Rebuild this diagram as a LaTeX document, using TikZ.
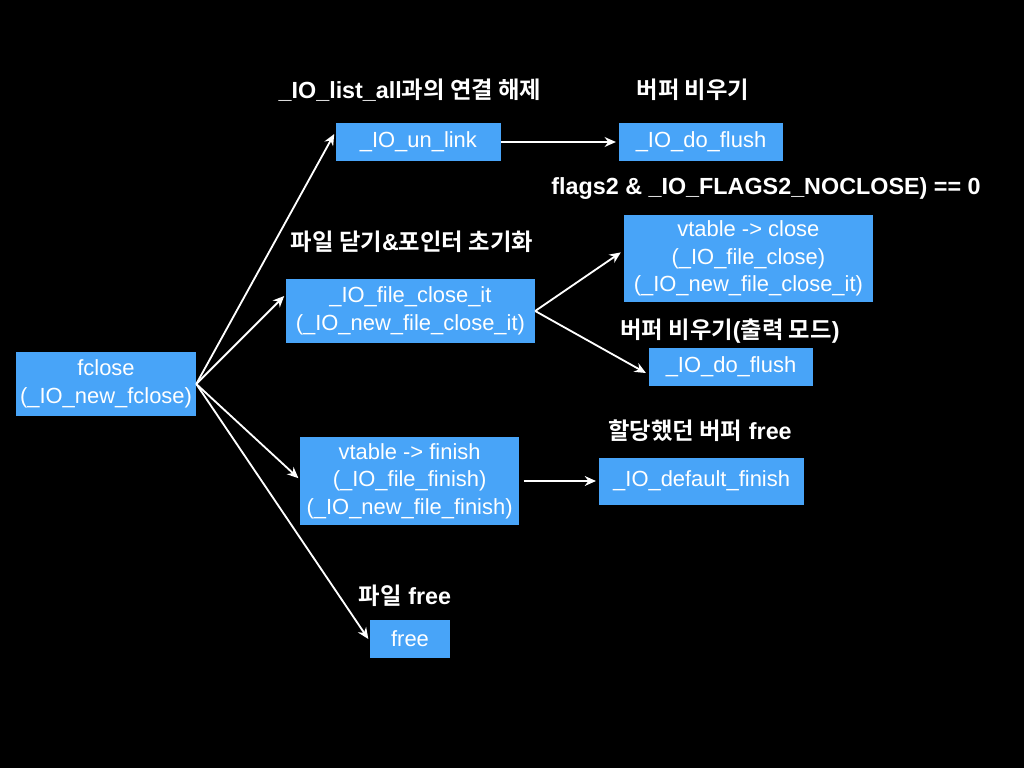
\documentclass[tikz,border=0pt]{standalone}
\usepackage{fontspec}
\setmainfont{Liberation Sans}
\newfontfamily\krfont{Noto Sans CJK KR}[BoldFont={Noto Sans CJK KR Bold}]
\newcommand{\kr}[1]{{\krfont\bfseries #1}}
\usetikzlibrary{arrows.meta}
\definecolor{boxblue}{RGB}{72,164,248}

\begin{document}
\begin{tikzpicture}[>={Stealth[length=8pt,width=7pt]},
  every node/.style={font=\fontsize{15.6}{19.5}\selectfont, text=white},
  fn/.style={fill=boxblue, inner sep=0pt, align=center},
  lbl/.style={font=\fontsize{16.6}{19.5}\selectfont\bfseries},
  arr/.style={->, draw=white, line width=1.3pt}]
\fill[black] (0,0) rectangle (25.6,-19.2);
\useasboundingbox (0,0) rectangle (25.6,-19.2);
\node[fn, minimum width=4.5cm, minimum height=1.6cm] (fclose) at (2.65,-9.6) {fclose\\(\_IO\_new\_fclose)};
\node[fn, minimum width=4.125cm, minimum height=0.95cm] (unlink) at (10.46,-3.55) {\_IO\_un\_link};
\node[fn, minimum width=4.1cm, minimum height=0.95cm] (flushA) at (17.525,-3.55) {\_IO\_do\_flush};
\node[fn, minimum width=6.225cm, minimum height=1.6cm] (closeit) at (10.26,-7.775) {\_IO\_file\_close\_it\\(\_IO\_new\_file\_close\_it)};
\node[fn, minimum width=6.225cm, minimum height=2.175cm] (vclose) at (18.71,-6.46) {vtable -> close\\(\_IO\_file\_close)\\(\_IO\_new\_file\_close\_it)};
\node[fn, minimum width=4.1cm, minimum height=0.95cm] (flushB) at (18.275,-9.175) {\_IO\_do\_flush};
\node[fn, minimum width=5.475cm, minimum height=2.2cm] (vfinish) at (10.24,-12.025) {vtable -> finish\\(\_IO\_file\_finish)\\(\_IO\_new\_file\_finish)};
\node[fn, minimum width=5.125cm, minimum height=1.175cm] (deffin) at (17.54,-12.025) {\_IO\_default\_finish};
\node[fn, minimum width=2cm, minimum height=0.95cm] (free) at (10.25,-15.975) {free};
% labels above the boxes
\node[lbl] (unlinkL) at (10.25,-2.25) {\_IO\_list\_all\kr{과의 연결 해제}};
\node[lbl] (flushAL) at (17.325,-2.25) {\kr{버퍼 비우기}};
\node[lbl] (vcloseL) at (19.15,-4.725) {flags2 \& \_IO\_FLAGS2\_NOCLOSE) == 0};
\node[lbl] (closeitL) at (10.3,-6.05) {\kr{파일 닫기}\&\kr{포인터 초기화}};
\node[lbl] (flushBL) at (18.25,-8.275) {\kr{버퍼 비우기}(\kr{출력 모드})};
\node[lbl] (deffinL) at (17.5,-10.775) {\kr{할당했던 버퍼} free};
\node[lbl] (freeL) at (10.125,-14.9) {\kr{파일} free};
% fan out of fclose
\draw[arr] (fclose.east) -- ([xshift=-1pt,yshift=0.2cm]unlink.west);
\draw[arr] (fclose.east) -- ([xshift=-1pt,yshift=0.375cm]closeit.west);
\draw[arr] (fclose.east) -- ([xshift=-1pt,yshift=0.07cm]vfinish.west);
\draw[arr] (fclose.east) -- ([xshift=-1pt]free.west);
\draw[arr] (closeit.east) -- ([xshift=-2pt,yshift=0.15cm]vclose.west);
\draw[arr] (closeit.east) -- ([xshift=-2pt,yshift=-0.15cm]flushB.west);
\draw[arr] (unlink.east) -- ([xshift=-2pt]flushA.west);
\draw[arr] ([xshift=3pt]vfinish.east) -- ([xshift=-2pt]deffin.west);
\end{tikzpicture}
\end{document}
